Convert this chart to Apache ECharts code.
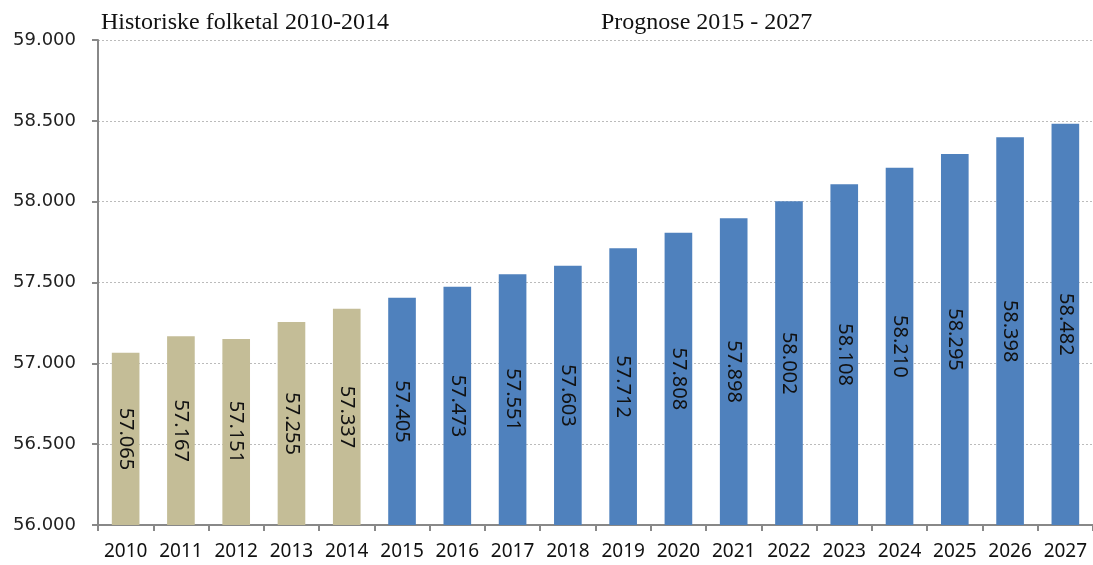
<!DOCTYPE html>
<html>
<head>
<meta charset="utf-8">
<script src="https://cdn.jsdelivr.net/npm/echarts@6/dist/echarts.min.js"></script>
<style>
html,body{margin:0;padding:0;background:#fff;}
#chart{width:1093px;height:565px;}
</style>
</head>
<body>
<div id="chart"></div>
<script>
const years = ['2010','2011','2012','2013','2014','2015','2016','2017','2018','2019','2020','2021','2022','2023','2024','2025','2026','2027'];
const population = [57065,57167,57151,57255,57337,57405,57473,57551,57603,57712,57808,57898,58002,58108,58210,58295,58398,58482];
const historicalYears = ['2010','2011','2012','2013','2014'];
const historicalTitle = 'Historiske folketal 2010-2014';
const forecastTitle = 'Prognose 2015 - 2027';
const histColor = '#C4BD97';
const progColor = '#4F81BD';

function fmt(v){ return String(v).replace(/\B(?=(\d{3})+(?!\d))/g, '.'); }

const chart = echarts.init(document.getElementById('chart'), null, {renderer:'canvas'});
chart.setOption({
  animation:false,
  backgroundColor:'#fff',
  title:[
    {text:historicalTitle, left:96, top:6, textStyle:{fontFamily:'Liberation Serif', fontSize:24, fontWeight:'normal', color:'#111'}},
    {text:forecastTitle, left:596, top:6, textStyle:{fontFamily:'Liberation Serif', fontSize:24, fontWeight:'normal', color:'#111'}}
  ],
  grid:{left:98, right:-5, top:40, bottom:40, containLabel:false},
  xAxis:{
    type:'category', data:years, boundaryGap:true,
    axisLine:{lineStyle:{color:'#888', width:2}},
    axisTick:{show:true, alignWithLabel:false, length:6, lineStyle:{color:'#888', width:2}},
    axisLabel:{color:'#111', fontFamily:'Noto Sans', fontSize:19, margin:17, interval:0}
  },
  yAxis:{
    type:'value', min:56000, max:59000, interval:500,
    axisLine:{show:true, lineStyle:{color:'#888', width:2}},
    axisTick:{show:true, length:6, lineStyle:{color:'#888', width:2}},
    splitLine:{lineStyle:{color:'#bbb', type:[2,2], width:1}},
    axisLabel:{color:'#222', fontFamily:'DejaVu Sans', fontSize:18, margin:22, formatter:fmt}
  },
  series:[{
    type:'bar', barWidth:'50%',
    data: population.map((v,i)=>({value:v, itemStyle:{color: historicalYears.includes(years[i]) ? histColor : progColor}})),
    label:{show:true, position:'inside', rotate:-90, color:'#111', fontFamily:'Noto Sans', fontSize:20, formatter:p=>fmt(p.value)}
  }]
});
</script>
</body>
</html>
